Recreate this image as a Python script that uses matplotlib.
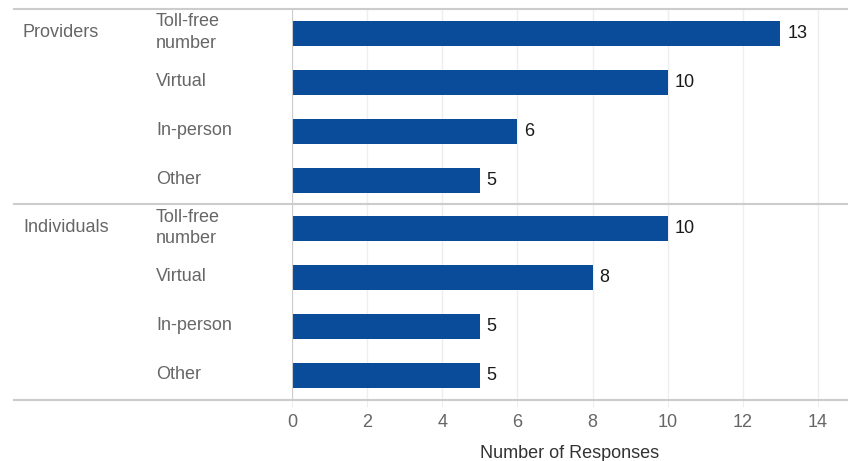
import matplotlib
matplotlib.use("Agg")
from matplotlib import pyplot as plt
from matplotlib import transforms

plt.rcParams['font.family'] = ['Liberation Sans', 'DejaVu Sans']

groups = ["Providers", "Individuals"]
categories = ["Toll-free\nnumber", "Virtual", "In-person", "Other"]
providers = [13, 10, 6, 5]
individuals = [10, 8, 5, 5]
x_ticks = [0, 2, 4, 6, 8, 10, 12, 14]

BAR = "#0a4c9a"
GRAY_TXT = "#666666"
LINE = "#cccccc"

fig = plt.figure(figsize=(8.48, 4.61), dpi=100)
ax = fig.add_axes([292 / 848, 61 / 461, 556 / 848, 391 / 461])

values = providers + individuals
ypos = list(range(len(values)))
ax.barh(ypos, values, height=0.51, color=BAR, zorder=3)
for y, v in zip(ypos, values):
    ax.text(v + 0.18, y, str(v), va="center", ha="left", fontsize=13,
            color="#1a1a1a")

ax.set_xlim(0, 14.8)
ax.set_ylim(len(values) - 0.5, -0.5)
ax.set_xticks(x_ticks)
ax.set_yticks([])
ax.tick_params(axis="x", length=5, color="#eeeeee", labelsize=13,
               labelcolor=GRAY_TXT, pad=5)
ax.grid(axis="x", color="#eeeeee", lw=1, zorder=0)
for s in ax.spines.values():
    s.set_visible(False)
ax.axvline(0, color=LINE, lw=1.5, zorder=4)
ax.set_xlabel("Number of Responses", fontsize=13, color="#333333", labelpad=10)

# labels to the left, x in figure fraction, y in data
trans = transforms.blended_transform_factory(fig.transFigure, ax.transData)
n = len(categories)
for gi, g in enumerate(groups):
    ax.text(23 / 848, gi * n - 0.02, g, transform=trans, fontsize=13,
            color=GRAY_TXT, va="center", ha="left")
    for ci, c in enumerate(categories):
        ax.text(156 / 848, gi * n + ci - 0.02, c, transform=trans, fontsize=13,
                color=GRAY_TXT, va="center", ha="left", linespacing=1.35)

# group separators
for yl in [-0.5, n - 0.5, 2 * n - 0.5]:
    ax.plot([14 / 848, 1.0], [yl, yl], transform=trans, color=LINE, lw=1.5,
            clip_on=False, zorder=5)

fig.savefig("out.png", dpi=100)
